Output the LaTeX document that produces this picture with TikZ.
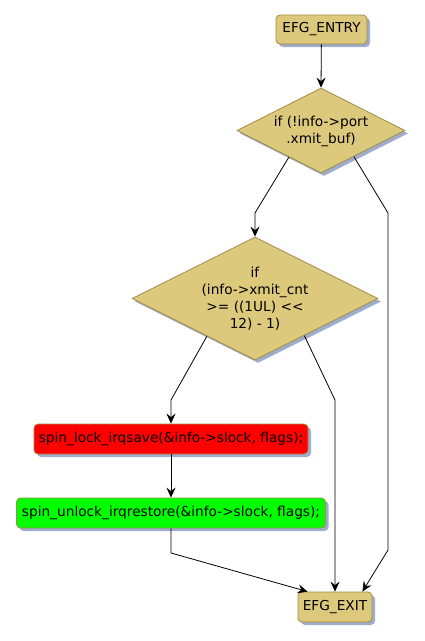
\documentclass[tikz,border=0pt]{standalone}
\usepackage{fontspec}
\setmainfont{DejaVu Sans}
\usetikzlibrary{shapes.geometric,arrows.meta,calc,shadows}
\definecolor{khaki}{RGB}{221,201,123}
\definecolor{khakiline}{RGB}{160,140,70}
\definecolor{shadowc}{RGB}{160,172,205}
\definecolor{lockred}{RGB}{255,0,0}
\definecolor{lockgreen}{RGB}{0,255,0}
\begin{document}
\begin{tikzpicture}[x=1pt,y=-1pt,
  every node/.style={font=\fontsize{13.7}{17}\selectfont},
  shad/.style={general shadow={fill=shadowc,shadow xshift=3pt,shadow yshift=-3pt}},
  termbox/.style={shape=rectangle,rounded corners=4pt,draw=khakiline,fill=khaki,line width=0.8pt,shad,inner sep=0pt,minimum height=29pt},
  actbox/.style={shape=rectangle,rounded corners=4pt,draw=khakiline,line width=0.8pt,shad,inner sep=0pt,minimum height=30pt},
  dia/.style={shape=diamond,draw=khakiline,fill=khaki,line width=0.8pt,shad,inner sep=0pt},
  txt/.style={align=center,inner sep=0pt},
  flow/.style={line width=0.8pt,black},
  arr/.style={flow,-{Stealth[length=10pt,width=9pt,inset=3.5pt]}}
]
\useasboundingbox (0,0) rectangle (424,641);
\node[termbox,minimum width=91pt] (entry) at (321.5,29.5) {EFG\_ENTRY};
\node[dia,minimum width=168pt,minimum height=85pt] (d1) at (321,130.5) {};
\node[txt] (d1t) at (321,131) {if (!info->port\\.xmit\_buf)};
\node[dia,minimum width=246pt,minimum height=123pt] (d2) at (255,298.5) {};
\node[txt] (d2t) at (255,299) {if\\(info->xmit\_cnt\\>= ((1UL) <\kern0pt<\\12) - 1)};
\node[actbox,fill=lockred,minimum width=274pt] (lock) at (171,439) {spin\_lock\_irqsave(\&info->slock, flags);};
\node[actbox,fill=lockgreen,minimum width=309pt] (unlock) at (171,513) {spin\_unlock\_irqrestore(\&info->slock, flags);};
\node[termbox,minimum width=74pt,minimum height=30pt] (exit) at (335,607) {EFG\_EXIT};
\coordinate (c1) at (255,213);
\coordinate (c2) at (388,213);
\coordinate (c3) at (388,550);
\coordinate (c4) at (171,400);
\coordinate (c5) at (335,400);
\coordinate (c6) at (171,553);
\draw[arr] (entry) -- (d1.north);
\draw[arr] ($(d1.west)!0.62!(d1.south)$) -- (c1) -- (d2.north);
\draw[arr] ($(d1.south)!0.39!(d1.east)$) -- (c2) -- (c3) -- ($(exit.north east)+(-10,0)$);
\draw[arr] ($(d2.west)!0.61!(d2.south)$) -- (c4) -- (lock.north);
\draw[arr] ($(d2.south)!0.4!(d2.east)$) -- (c5) -- (exit.north);
\draw[arr] (lock) -- (unlock);
\draw[arr] (unlock.south) -- (c6) -- ($(exit.north west)+(10,0)$);
\end{tikzpicture}
\end{document}
